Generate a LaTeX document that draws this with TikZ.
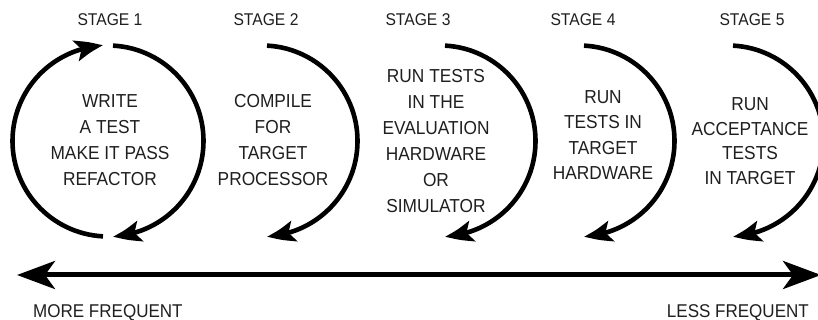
\documentclass[tikz,border=0pt]{standalone}
\usepackage{fontspec}
\setmainfont{Liberation Sans}[FakeStretch=0.92]
\usetikzlibrary{arrows.meta,bending}
\begin{document}
\begin{tikzpicture}[x=1pt,y=1pt,
  cyc/.style={line width=4.6pt, draw=black, -{Stealth[length=28pt,width=21pt,inset=6pt,bend]}},
  axisarrow/.style={line width=5pt, draw=black,
    {Stealth[length=38pt,width=28pt,inset=10pt]}-{Stealth[length=38pt,width=28pt,inset=10pt]}},
  stagelbl/.style={font=\fontsize{17}{20}\selectfont, text=black!88, inner sep=0pt},
  body/.style={font=\fontsize{18.8}{26}\selectfont, align=center, text=black!88, inner sep=0pt},
  freq/.style={font=\fontsize{18.5}{20}\selectfont, text=black!88, inner sep=0pt}]
\clip (0,0) rectangle (818,320);
\fill[white] (0,0) rectangle (818,320);
% circle centres
\coordinate (c1) at (108,179);
\coordinate (c2) at (262,179);
\coordinate (c3) at (440,179);
\coordinate (c4) at (579,179);
\coordinate (c5) at (728,179);
% stage labels
\node[stagelbl] (s1) at (110,300) {STAGE 1};
\node[stagelbl] (s2) at (266,300) {STAGE 2};
\node[stagelbl] (s3) at (418,300) {STAGE 3};
\node[stagelbl] (s4) at (583,300) {STAGE 4};
\node[stagelbl] (s5) at (752,300) {STAGE 5};
% bodies
\node[body] (t1) at (110,180) {WRITE\\A TEST\\MAKE IT PASS\\REFACTOR};
\node[body] (t2) at (273,180) {COMPILE\\FOR\\TARGET\\PROCESSOR};
\node[body] (t3) at (436,178.5) {RUN TESTS\\IN THE\\EVALUATION\\HARDWARE\\OR\\SIMULATOR};
\node[body,font=\fontsize{18.8}{25.5}\selectfont] (t4) at (603,185) {RUN\\TESTS IN\\TARGET\\HARDWARE};
\node[body,font=\fontsize{18.8}{24.5}\selectfont] (t5) at (750,179) {RUN\\ACCEPTANCE\\TESTS\\IN TARGET};
% cycle arcs
\draw[cyc] ([shift={(c1)}]267:95.5) arc[start angle=267, end angle=93, radius=95.5];
\draw[cyc] ([shift={(c1)}]87:95.5) arc[start angle=87, end angle=-87, radius=95.5];
\draw[cyc] ([shift={(c2)}]87:95.5) arc[start angle=87, end angle=-87, radius=95.5];
\draw[cyc] ([shift={(c3)}]87:95.5) arc[start angle=87, end angle=-87, radius=95.5];
\draw[cyc] ([shift={(c4)}]87:95.5) arc[start angle=87, end angle=-87, radius=95.5];
\draw[cyc] ([shift={(c5)}]87:95.5) arc[start angle=87, end angle=-87, radius=95.5];
% frequency axis
\coordinate (L) at (17,45);
\coordinate (R) at (821,45);
\draw[axisarrow] (L) -- (R);
\node[freq, anchor=west] (more) at (33,7.5) {MORE FREQUENT};
\node[freq, anchor=east] (less) at (809,7.5) {LESS FREQUENT};
\end{tikzpicture}
\end{document}
